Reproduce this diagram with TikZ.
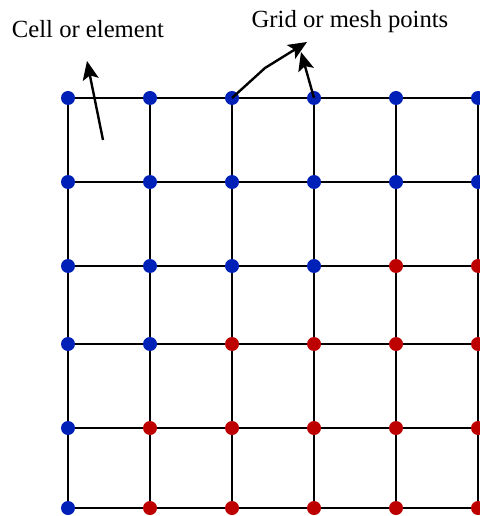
\documentclass[tikz,border=0pt]{standalone}
\usepackage{fontspec}
\setmainfont{Liberation Serif}
\usetikzlibrary{arrows.meta}
\definecolor{meshblue}{rgb}{0.0,0.13,0.72}
\definecolor{meshred}{rgb}{0.74,0.0,0.0}
\tikzset{
  gridpt/.style={
    circle,
    inner sep=0pt,
    minimum size=10.5pt,
    fill=#1
  },
  meshline/.style={
    line width=1.8pt,
    black
  },
  pointer/.style={
    -{Stealth[length=14pt,width=12pt,inset=3pt]},
    line width=1.8pt,
    black
  },
  caption/.style={
    anchor=base,
    inner sep=0pt,
    font=\fontsize{18.5}{21}\selectfont
  }
}

\begin{document}
\begin{tikzpicture}[x=0.75pt,y=-0.75pt]
\useasboundingbox (0,0) rectangle (479,516);
% grid points
\foreach \r/\y in {1/98,2/182,3/266,4/344,5/428,6/508}{
  \foreach \c/\x in {1/68,2/150,3/232,4/314,5/396,6/478}{
    \coordinate (p\r\c) at (\x,\y);
  }
}
% mesh lines
\foreach \r in {1,...,6}{
  \draw[meshline] (p\r1) -- (p\r6) -- ++(5,0);
}
\foreach \c in {1,...,6}{
  \draw[meshline] (p1\c) -- (p6\c);
}
% dots
\foreach \r/\firstred in {1/7,2/7,3/5,4/3,5/2,6/2}{
  \foreach \c in {1,...,6}{
    \ifnum\c<\firstred
      \node[gridpt=meshblue] (d\r\c) at (p\r\c) {};
    \else
      \node[gridpt=meshred] (d\r\c) at (p\r\c) {};
    \fi
  }
}
% labels
\node[caption] (cell) at (88,38) {Cell or element};
\node[caption] (mesh) at (350,28) {Grid or mesh points};
\coordinate (celltail) at (103,140);
\coordinate (celltip) at (87,61);
\coordinate (bend) at (265,68);
\coordinate (meshtip) at (307,42);
\coordinate (meshtipb) at (301,52);
\draw[pointer] (celltail) -- (celltip);
\draw[pointer] (p13) -- (bend) -- (meshtip);
\draw[pointer] (p14) -- (meshtipb);
\end{tikzpicture}
\end{document}
